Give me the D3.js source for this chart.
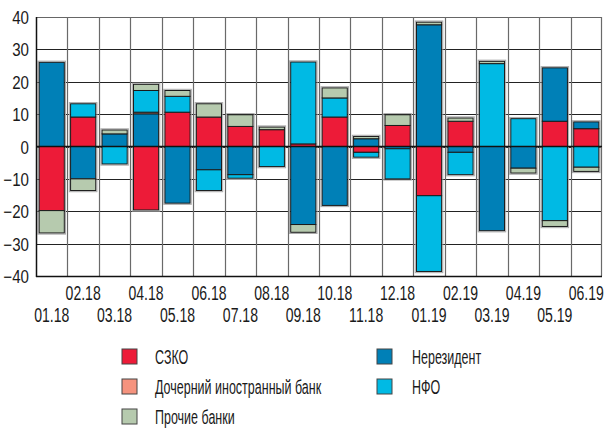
<!DOCTYPE html>
<html>
<head>
<meta charset="utf-8">
<script src="https://cdn.jsdelivr.net/npm/d3@7"></script>
<style>
  html, body { margin: 0; padding: 0; background: #fff; }
  svg { display: block; }
  text { font-family: "Liberation Sans", Arial, sans-serif; fill: #1a1a1a; }
</style>
</head>
<body>
<svg id="chart" width="607" height="431"></svg>
<script>
// ---- data ----
const categories = ["01.18","02.18","03.18","04.18","05.18","06.18","07.18","08.18","09.18",
                    "10.18","11.18","12.18","01.19","02.19","03.19","04.19","05.19","06.19"];
const szko    = [-19.8, 9.1, 0,   -19.6, 10.6, 9.1, 6.2, 5.2, 0.8, 9.1, -1.8, 6.5, -15.2, 7.8, 0,    0,    7.8,  5.5];
const dochern = [0,     0,   0,   0.5,   0,    0,   0,   0,   0,   0,   0,    0,   0,     0,   0,    0,    0,    0];
const prochie = [-6.9, -3.6, 1.2, 1.9,   1.8,  4.1, 3.6, 0.8, -2.4, 3.1, 0.7, 3.3, 0.8,   1.0, 0.7,  -1.5, -1.8, -1.3];
const nerez   = [26.0, -10.0, 3.9, 10.1, -17.5, -7.2, -8.7, 0, -24.1, -18.2, 2.4, -0.7, 37.6, -1.8, -26.0, -6.7, 16.5, 2.1];
const nfo     = [0,     4.1, -5.4, 6.7,  4.9, -6.4, -1.1, -6.2, 25.3, 5.9, -1.5, -9.3, -23.4, -6.9, 25.6, 8.6, -22.9, -6.4];
const yTicks  = [-40, -30, -20, -10, 0, 10, 20, 30, 40];

const seriesNames = {
  szko: "СЗКО", dochern: "Дочерний иностранный банк", prochie: "Прочие банки",
  nerez: "Нерезидент", nfo: "НФО"
};
const colors = {
  szko: "#ED1B38", dochern: "#F5937E", prochie: "#B6CAAE", nerez: "#0080B7", nfo: "#00BAE4"
};
const stackKeys = ["szko", "nerez", "dochern", "nfo", "prochie"];
const seriesData = { szko, dochern, prochie, nerez, nfo };

// ---- layout ----
const svg = d3.select("#chart");
const L = 36, R = 602, T = 17, B = 276;

const y = d3.scaleLinear().domain([-40, 40]).range([B, T]);
const xGrid = d3.scaleBand().domain(categories).range([L, R]).padding(0);
const xBar = d3.scaleBand().domain(categories).range([L, R]).paddingInner(0.2).paddingOuter(0.1);

// grid - horizontal
svg.append("g").selectAll("line").data(yTicks).join("line")
  .attr("x1", L).attr("x2", R)
  .attr("y1", d => Math.round(y(d)) + 0.5).attr("y2", d => Math.round(y(d)) + 0.5)
  .attr("stroke", d => d === 40 ? "#666" : "#222")
  .attr("stroke-width", 1);

// grid - vertical (band boundaries)
svg.append("g").selectAll("line").data(categories.slice(1).concat(["__end"])).join("line")
  .attr("x1", d => d === "__end" ? R - 0.5 : Math.round(xGrid(d)) + 0.5)
  .attr("x2", d => d === "__end" ? R - 0.5 : Math.round(xGrid(d)) + 0.5)
  .attr("y1", T).attr("y2", B)
  .attr("stroke", "#6a6a6a").attr("stroke-width", 1.2);

// stacked data
const rows = categories.map((c, i) => {
  const r = { cat: c };
  stackKeys.forEach(k => r[k] = seriesData[k][i]);
  return r;
});
const stack = d3.stack().keys(stackKeys).offset(d3.stackOffsetDiverging);
const stacked = stack(rows);

// halo behind each column
const extents = rows.map((r, i) => {
  let lo = 0, hi = 0;
  stacked.forEach(s => { lo = Math.min(lo, s[i][0], s[i][1]); hi = Math.max(hi, s[i][0], s[i][1]); });
  return { cat: r.cat, lo, hi };
});
svg.append("g").selectAll("rect").data(extents).join("rect")
  .attr("x", d => xBar(d.cat) - 1.2)
  .attr("width", xBar.bandwidth() + 2.4)
  .attr("y", d => y(d.hi) - 1.2)
  .attr("height", d => y(d.lo) - y(d.hi) + 2.4)
  .attr("fill", "none").attr("stroke", "#aaaaaa").attr("stroke-width", 1);

// bars
const barG = svg.append("g");
stacked.forEach(s => {
  barG.append("g").selectAll("rect")
    .data(s.filter(d => Math.abs(d[1] - d[0]) > 0.01))
    .join("rect")
    .attr("x", d => xBar(d.data.cat))
    .attr("width", xBar.bandwidth())
    .attr("y", d => y(Math.max(d[0], d[1])))
    .attr("height", d => Math.abs(y(d[0]) - y(d[1])))
    .attr("fill", colors[s.key])
    .attr("stroke", "#1a1a1a").attr("stroke-width", 1);
});

// zero line
svg.append("line").attr("x1", L).attr("x2", R)
  .attr("y1", y(0)).attr("y2", y(0))
  .attr("stroke", "#111").attr("stroke-width", 1.5);

// axes lines
svg.append("line").attr("x1", L + 0.5).attr("x2", L + 0.5).attr("y1", T).attr("y2", B + 1)
  .attr("stroke", "#111").attr("stroke-width", 1.5);
svg.append("line").attr("x1", L).attr("x2", R).attr("y1", B + 0.5).attr("y2", B + 0.5)
  .attr("stroke", "#111").attr("stroke-width", 1.5);

// y axis labels
const yAxis = d3.axisLeft(y).tickValues(yTicks).tickSize(0).tickFormat(d3.format("d"));
const yG = svg.append("g").attr("transform", `translate(${L},0)`).call(yAxis);
yG.select(".domain").remove();
yG.selectAll("text")
  .attr("font-size", 18).attr("font-family", null).attr("fill", "#1a1a1a")
  .attr("x", 0).attr("y", 0).attr("dy", null)
  .attr("text-anchor", "end")
  .attr("transform", "translate(-7,6.5) scale(0.84,1)");

// x axis labels (two rows)
const xAxis = d3.axisBottom(xGrid).tickSize(0).tickPadding(0);
const xG = svg.append("g").attr("transform", `translate(0,${B})`).call(xAxis);
xG.select(".domain").remove();
xG.selectAll("text")
  .attr("font-size", 19.5).attr("font-family", null).attr("fill", "#1a1a1a")
  .attr("dy", null).attr("y", 0)
  .attr("transform", (d, i) => `translate(0,${i % 2 === 1 ? 24 : 46}) scale(0.72,1)`);

// legend
const legendItems = [
  { key: "szko", col: 0, row: 0 },
  { key: "dochern", col: 0, row: 1 },
  { key: "prochie", col: 0, row: 2 },
  { key: "nerez", col: 1, row: 0 },
  { key: "nfo", col: 1, row: 1 }
];
const colX = [122, 377], rowY = 349, rowStep = 30;
const lg = svg.append("g");
const li = lg.selectAll("g").data(legendItems).join("g")
  .attr("transform", d => `translate(${colX[d.col]},${rowY + d.row * rowStep})`);
li.append("rect").attr("width", 15).attr("height", 15)
  .attr("fill", d => colors[d.key]).attr("stroke", "#444").attr("stroke-width", 1);
li.append("text")
  .attr("font-size", 20.5)
  .attr("transform", d => `translate(${d.col === 0 ? 33 : 35},15) scale(0.61,1)`)
  .text(d => seriesNames[d.key]);
</script>
</body>
</html>
